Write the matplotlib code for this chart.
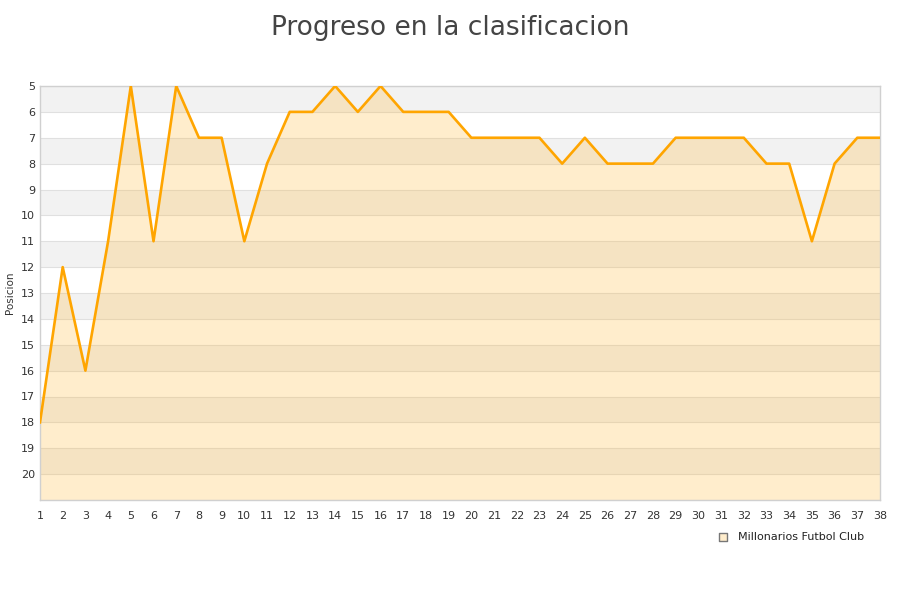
import matplotlib.pyplot as plt

# Datos: posicion por jornada
jornadas = list(range(1, 39))
posiciones = [18, 12, 16, 11, 5, 11, 5, 7, 7, 11,
              8, 6, 6, 5, 6, 5, 6, 6, 6, 7,
              7, 7, 7, 8, 7, 8, 8, 8, 7, 7,
              7, 7, 8, 8, 11, 8, 7, 7]
equipo = 'Millonarios Futbol Club'
titulo = 'Progreso en la clasificacion'

fig = plt.figure(figsize=(9, 6), dpi=100)
ax = fig.add_axes([40/900, 100/600, 840/900, 414/600])

# bandas alternas
for y in range(5, 21, 2):
    ax.axhspan(y, y + 1, color='#f2f2f2', zorder=0, lw=0)
for y in range(5, 22):
    ax.axhline(y, color='#e0e0e0', lw=0.8, zorder=1)

ax.fill_between(jornadas, posiciones, 21, color='#ffb223', alpha=0.23, lw=0, zorder=2)
ax.plot(jornadas, posiciones, color='#ffa500', lw=1.9, zorder=3)

ax.set_xlim(1, 38)
ax.set_ylim(21, 5)
ax.set_xticks(jornadas)
ax.set_yticks(range(5, 21))
ax.tick_params(axis='both', length=0, labelsize=8, colors='#333333')
ax.tick_params(axis='x', pad=8)
for s in ax.spines.values():
    s.set_color('#d0d0d0')
    s.set_linewidth(1)

ax.set_ylabel('Posicion', fontsize=7.5, color='#333333', labelpad=4)

fig.text(0.5, 0.975, titulo, ha='center', va='top', fontsize=19, color='#444444',
         family=['Liberation Sans Narrow', 'DejaVu Sans'])

# leyenda
ax.scatter([], [], marker='s', s=40, color='#ffedcc', edgecolor='#777777', label=equipo)
fig.legend(*ax.get_legend_handles_labels(), loc='center', bbox_to_anchor=(788/900, 1 - 537/600),
           frameon=False, fontsize=8, handletextpad=0.3, labelcolor='#222222')

fig.savefig('out.png')
